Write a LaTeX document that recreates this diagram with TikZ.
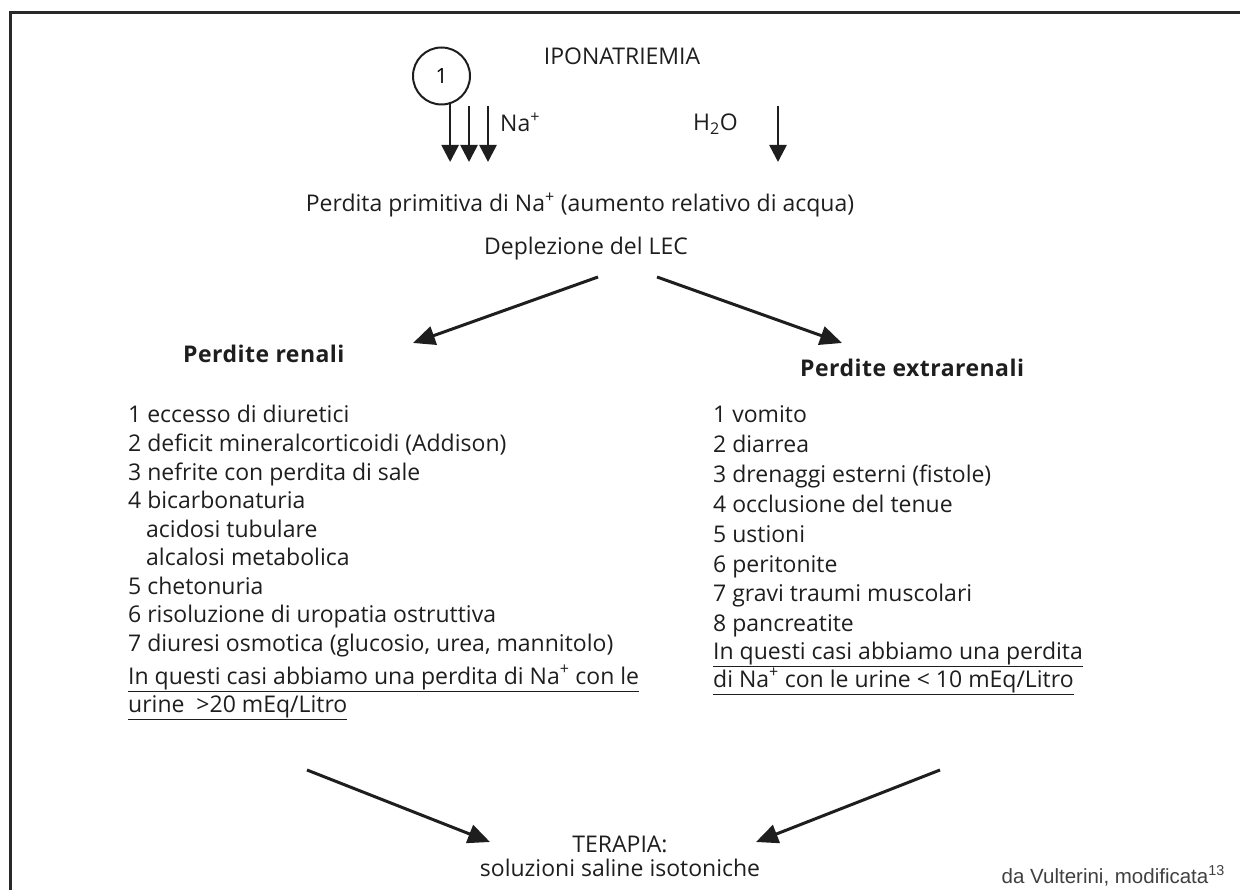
\documentclass[tikz,border=0pt]{standalone}
\usepackage{fontspec}
\setmainfont{Open Sans}
\newfontfamily\notefont{Liberation Sans}
\usetikzlibrary{arrows.meta}
\definecolor{ink}{HTML}{1E1E1E}
\begin{document}
\begin{tikzpicture}[x=1pt,y=-1pt,
  txt/.style={inner sep=0pt, text=ink, font=\fontsize{23}{28}\selectfont},
  head/.style={inner sep=0pt, text=ink, font=\fontsize{23}{28}\selectfont\bfseries\addfontfeatures{LetterSpace=2}},
  note/.style={inner sep=0pt, text=ink!85, font=\notefont\fontsize{20.5}{24}\selectfont},
  arr/.style={draw=ink, line width=2.6pt, -{Triangle[length=17pt,width=17pt]}},
  darr/.style={draw=ink, line width=3pt, -{Triangle[length=22pt,width=19pt]}}]
\useasboundingbox (0,0) rectangle (1240,890);
% frame on the top and left sides
\draw[line width=2.6pt, draw=ink!95] (10.7,890) -- (10.7,12.3) -- (1240,12.3);

% title and sodium / water arrows
\node[txt, anchor=base] (title) at (622,65) {IPONATRIEMIA};
\node[draw=ink, circle, line width=2pt, minimum size=57pt, inner sep=0pt,
      font=\fontsize{21}{24}\selectfont] (one) at (441.5,76) {1};
\coordinate (natip) at (0,162);
\coordinate (na2s) at (469,106);
\coordinate (na3s) at (488,106);
\draw[arr] (one.-73) -- (one.-73 |- natip);
\draw[arr] (na2s) -- (na2s |- natip);
\draw[arr] (na3s) -- (na3s |- natip);
\node[txt, anchor=base west] (na) at (500,132) {Na\textsuperscript{+}};
\node[txt, anchor=base west] (water) at (693,131) {H\textsubscript{2}O};
\coordinate (ws) at (778,106);
\draw[arr] (ws) -- (ws |- natip);

\node[txt, anchor=base] (loss) at (580,212) {Perdita primitiva di Na\textsuperscript{+} (aumento relativo di acqua)};
\node[txt, anchor=base] (lec) at (586,255) {Deplezione del LEC};

% branching arrows
\coordinate (ls) at (598,277);
\coordinate (le) at (413,343);
\coordinate (rs) at (657,277);
\coordinate (re) at (842,343);
\draw[darr] (ls) -- (le);
\draw[darr] (rs) -- (re);

\node[head, anchor=base west] (ren) at (183,363) {Perdite renali};
\node[head, anchor=base west] (extra) at (800,377) {Perdite extrarenali};

% renal causes
\foreach \t [count=\i] in {1 eccesso di diuretici,
    2 deficit mineralcorticoidi (Addison),
    3 nefrite con perdita di sale,
    4 bicarbonaturia,
    \hspace{18pt}acidosi tubulare,
    \hspace{18pt}alcalosi metabolica,
    5 chetonuria,
    6 risoluzione di uropatia ostruttiva,
    7 diuresi osmotica (glucosio{,} urea{,} mannitolo)}
  \node[txt, anchor=base west] (r\i) at (128,{423+28.5*(\i-1)}) {\t};
\node[txt, anchor=base west] (rnote1) at (128,684) {\underline{In questi casi abbiamo una perdita di Na\textsuperscript{+} con le}};
\node[txt, anchor=base west] (rnote2) at (128,712) {\underline{urine \ >20 mEq/Litro}};

% extrarenal causes
\foreach \t [count=\i] in {1 vomito, 2 diarrea, 3 drenaggi esterni (fistole),
    4 occlusione del tenue, 5 ustioni, 6 peritonite,
    7 gravi traumi muscolari, 8 pancreatite}
  \node[txt, anchor=base west] (e\i) at (713,{423+29.8*(\i-1)}) {\t};
\node[txt, anchor=base west] (enote1) at (713,659) {\underline{In questi casi abbiamo una perdita}};
\node[txt, anchor=base west] (enote2) at (713,687) {\underline{di Na\textsuperscript{+} con le urine < 10 mEq/Litro}};

% therapy
\coordinate (bls) at (307,770);
\coordinate (ble) at (490,842);
\coordinate (brs) at (940,770);
\coordinate (bre) at (756,842);
\draw[darr] (bls) -- (ble);
\draw[darr] (brs) -- (bre);
\node[txt, anchor=base] (ther) at (620,852) {TERAPIA:};
\node[txt, anchor=base] (sol) at (620,876) {soluzioni saline isotoniche};
\node[note, anchor=base east] (src) at (1225,883) {da Vulterini, modificata\textsuperscript{13}};
\end{tikzpicture}
\end{document}
